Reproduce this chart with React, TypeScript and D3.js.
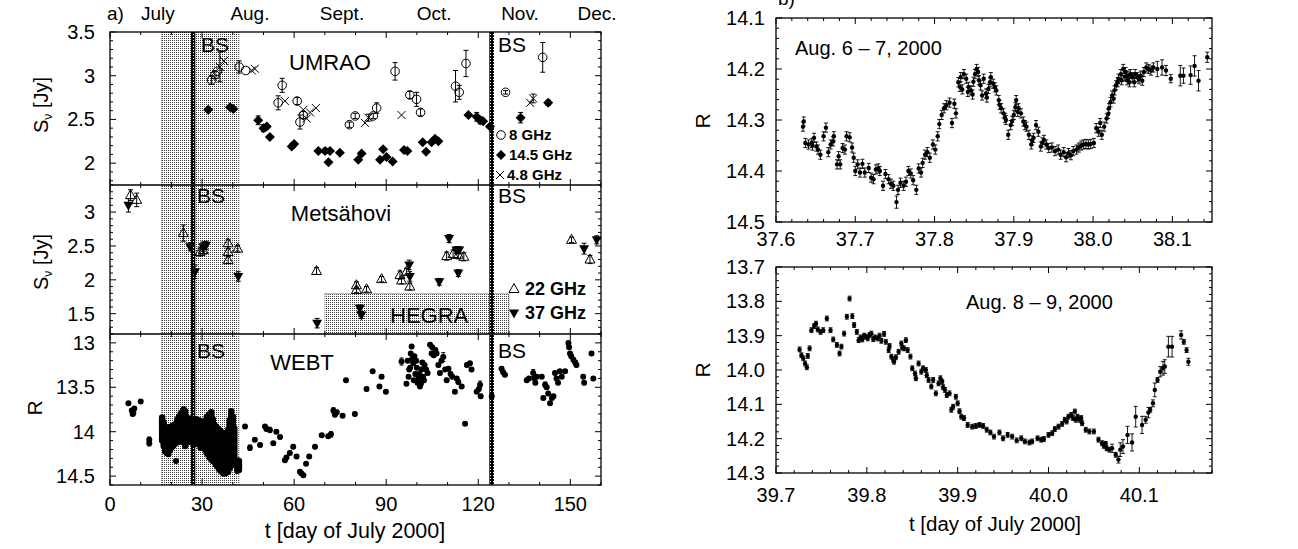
import * as d3 from 'd3';

const W = 1298;
const H = 549;
const FONT = '"Liberation Sans", Arial, Helvetica, sans-serif';

// ---------- panel a) : long-term light curves ----------
const monthNames = ['July', 'Aug.', 'Sept.', 'Oct.', 'Nov.', 'Dec.'];
const monthPos = [15.6, 45.6, 75.6, 105.6, 133.6, 158.7];
const shadeDays = [16.8, 42];
const bsDays = [[26.4, 27.8], [123.6, 125.1]];
const hegraDays = [70, 130];
const hegraTop = 1.8;

// UMRAO [day, S, err]
const umrao8 = [
  [33.1, 2.95, 0.05], [34.2, 3.01, 0.04], [35, 3.05, 0], [42.1, 3.1, 0.07], [44.2, 3.06, 0],
  [54.8, 2.69, 0.08], [56.1, 2.89, 0.08], [61, 2.71, 0.04], [61.9, 2.47, 0.08], [63, 2.55, 0.04],
  [78, 2.44, 0.03], [79.9, 2.54, 0.03], [85.8, 2.54, 0.03], [86.9, 2.63, 0.06], [92.9, 3.05, 0.1],
  [97.7, 2.78, 0.04], [99.9, 2.73, 0.08], [101.2, 2.58, 0.04], [112.6, 2.88, 0.18], [113.8, 2.81, 0.08],
  [116, 3.14, 0.15], [128.9, 2.81, 0.02], [141, 3.21, 0.17],
];
const umrao145 = [
  [32, 2.61, 0], [39.1, 2.64, 0], [40.2, 2.62, 0], [48.3, 2.49, 0.05], [50, 2.4, 0.04], [51.1, 2.42, 0],
  [52.1, 2.3, 0], [59.2, 2.19, 0], [60, 2.22, 0], [67.9, 2.14, 0], [70.1, 2.14, 0.03], [71.2, 2.01, 0],
  [71.7, 2.14, 0], [74.9, 2.12, 0], [80.9, 2.04, 0], [82, 2.11, 0], [88, 2.04, 0], [89, 2.16, 0],
  [90.1, 2.07, 0], [92.1, 2.02, 0], [95.8, 2.15, 0], [96.9, 2.14, 0], [101.9, 2.24, 0], [103, 2.13, 0],
  [104.8, 2.24, 0], [105.9, 2.28, 0], [107, 2.25, 0], [116.8, 2.55, 0], [119.5, 2.53, 0.05],
  [120.6, 2.49, 0.04], [121.6, 2.48, 0], [123.8, 2.42, 0], [133.8, 2.52, 0.06], [142.8, 2.69, 0.03],
];
const umrao48 = [
  [35.8, 3.1, 0.17], [37.1, 3.17, 0], [46.2, 3.06, 0], [47.2, 3.08, 0], [57, 2.71, 0], [63, 2.61, 0],
  [64.1, 2.51, 0], [65.2, 2.58, 0], [67.1, 2.63, 0], [83.1, 2.46, 0], [84.2, 2.52, 0.04], [95, 2.55, 0],
  [136.9, 2.69, 0], [137.9, 2.74, 0.05],
];

// Metsähovi [day, S, err]
const mets22 = [
  [6.7, 3.25, 0.08], [8.7, 3.18, 0.1], [23.9, 2.69, 0.12], [29.3, 2.41, 0.06], [30.4, 2.44, 0.06],
  [38.5, 2.54, 0.05], [38.5, 2.41, 0.05], [38.5, 2.29, 0.05], [41.6, 2.46, 0.05], [67.3, 2.13, 0.05],
  [80.3, 1.92, 0.05], [80.3, 1.85, 0.04], [83.6, 1.86, 0.04], [88.5, 2.01, 0.04], [94.5, 2.07, 0.06],
  [95, 1.99, 0.05], [96.6, 2.12, 0.05], [97.7, 1.9, 0.05], [109.7, 2.35, 0.06], [111.8, 2.38, 0.06],
  [113.5, 2.37, 0.06], [115.3, 2.34, 0.06], [150.4, 2.59, 0.04], [156.4, 2.3, 0.06],
];
const mets37 = [
  [6, 3.1, 0.1], [26.1, 2.49, 0.06], [27.7, 2.12, 0.1], [30.4, 2.49, 0.07], [31.3, 2.51, 0.06],
  [41.8, 2.05, 0.07], [67.5, 1.36, 0.07], [81.4, 1.58, 0.05], [81.9, 1.48, 0.05], [97.5, 2.22, 0.07],
  [97.7, 2.05, 0.07], [107.3, 1.97, 0.05], [110.5, 2.61, 0.06], [112.9, 2.44, 0.05], [113.8, 2.44, 0.05],
  [113.5, 2.1, 0.05], [154.5, 2.46, 0.08], [158.6, 2.59, 0.06],
];

// WEBT dense nights Jul 17 - Aug 11: [day, brightest R, faintest R]
const webtNights = [
  [17.0, 13.84, 14.1], [17.5, 13.9, 14.16], [18.0, 13.96, 14.22], [18.5, 13.99, 14.24], [19.0, 13.95, 14.25],
  [19.5, 13.97, 14.21], [20.0, 13.94, 14.18], [20.5, 13.93, 14.16], [21.0, 13.96, 14.14], [21.5, 13.91, 14.12],
  [22.0, 13.86, 14.12], [22.5, 13.83, 14.1], [23.0, 13.8, 14.09], [23.5, 13.78, 14.08], [24.0, 13.75, 14.12],
  [24.5, 13.77, 14.16], [25.0, 13.84, 14.12], [25.5, 13.88, 14.08], [26.0, 13.86, 14.1], [26.5, 13.85, 14.12],
  [27.0, 13.86, 14.13], [27.5, 13.87, 14.14], [28.0, 13.86, 14.13], [28.5, 13.88, 14.1], [29.0, 13.87, 14.09],
  [29.5, 13.9, 14.18], [30.0, 13.91, 14.15], [30.5, 13.92, 14.17], [31.0, 13.88, 14.2], [31.5, 13.84, 14.24],
  [32.0, 13.82, 14.26], [32.5, 13.8, 14.29], [33.0, 13.78, 14.31], [33.5, 13.86, 14.33], [34.0, 13.92, 14.33],
  [34.5, 13.94, 14.37], [35.0, 13.96, 14.39], [35.5, 13.98, 14.42], [36.0, 13.99, 14.44], [36.5, 14.01, 14.45],
  [37.0, 14.03, 14.47], [37.5, 14.03, 14.47], [38.0, 14.01, 14.46], [38.5, 13.98, 14.45], [39.0, 13.87, 14.41],
  [39.5, 13.77, 14.38], [40.0, 13.83, 14.3], [40.5, 13.96, 14.27], [41.5, 14.32, 14.44], [42.0, 14.33, 14.43],
];
// WEBT sparse points [day, R, err]
const webtSparse = [
  [6, 13.68, 0.02], [7.1, 13.76, 0.02], [7.4, 13.8, 0.02], [7.6, 13.79, 0.02], [7.9, 13.74, 0.02], [10, 13.66, 0.01],
  [12.8, 14.09, 0.03], [12.8, 14.13, 0.03], [21.5, 14.33, 0.02],
  [44, 13.94, 0.02], [45.6, 14.18, 0.03], [47.2, 14.09, 0.02], [48.9, 14.15, 0.02], [50.5, 13.94, 0.02],
  [51, 13.97, 0.02], [52.1, 13.98, 0.03], [53.2, 14.13, 0.02], [54.2, 14.0, 0.02], [55.4, 14.06, 0.02],
  [57, 14.32, 0.02], [57.5, 14.29, 0.02], [58.6, 14.24, 0.02], [59.7, 14.17, 0.02], [60.8, 14.28, 0.02],
  [61.9, 14.45, 0.02], [62.4, 14.47, 0.02], [63, 14.49, 0.02], [63.9, 14.36, 0.02], [64.9, 14.28, 0.02],
  [66.8, 14.17, 0.02], [69, 14.04, 0.02], [71.1, 14.05, 0.02], [72, 14.03, 0.03], [72.8, 13.76, 0.03],
  [73.3, 13.81, 0.02], [73.9, 13.78, 0.02], [75.8, 13.82, 0.02], [76.9, 13.42, 0.02], [79.8, 13.8, 0.02],
  [83.6, 13.52, 0.02], [85.6, 13.32, 0.02], [87.8, 13.49, 0.02], [88.5, 13.38, 0.02], [89.9, 13.55, 0.02],
  [95, 13.21, 0.04], [96.6, 13.46, 0.02], [97, 13.2, 0.02], [97.3, 13.38, 0.02], [97.5, 13.3, 0.02],
  [97.8, 13.28, 0.02], [98, 13.12, 0.02], [98.3, 13.04, 0.02], [98.5, 13.18, 0.02], [98.8, 13.23, 0.02],
  [99, 13.42, 0.02], [99.2, 13.15, 0.02], [99.5, 13.35, 0.02], [99.8, 13.2, 0.02], [100, 13.28, 0.02],
  [100.2, 13.45, 0.02], [100.5, 13.4, 0.02], [100.8, 13.35, 0.02], [101, 13.49, 0.02], [101.3, 13.46, 0.02],
  [101.5, 13.3, 0.02], [101.8, 13.22, 0.02], [102, 13.38, 0.02], [102.3, 13.42, 0.02], [102.5, 13.25, 0.02],
  [103, 13.3, 0.02], [103.5, 13.34, 0.02], [104.3, 13.02, 0.02], [104.8, 13.12, 0.02], [105, 13.05, 0.02],
  [105.5, 13.14, 0.02], [106, 13.08, 0.02], [106.4, 13.12, 0.02], [107, 13.25, 0.02], [107.5, 13.34, 0.02],
  [108, 13.2, 0.02], [108.6, 13.16, 0.05], [109.2, 13.3, 0.02], [109.7, 13.42, 0.02], [110.3, 13.29, 0.02],
  [111, 13.35, 0.02], [111.5, 13.38, 0.02], [112.4, 13.55, 0.02], [113, 13.4, 0.02], [113.5, 13.44, 0.02],
  [114.6, 13.49, 0.02], [115.7, 13.91, 0.02], [116.3, 13.25, 0.02], [117.3, 13.23, 0.02], [117.8, 13.3, 0.02],
  [119.5, 13.55, 0.02], [120.2, 13.52, 0.02], [120.6, 13.47, 0.04], [120.8, 13.6, 0.02], [124.4, 13.6, 0.02],
  [127.6, 13.29, 0.02], [128.1, 13.33, 0.02], [128.7, 13.36, 0.02], [135.8, 13.42, 0.02], [136.5, 13.4, 0.02],
  [137.9, 13.34, 0.04], [138.3, 13.4, 0.02], [138.6, 13.45, 0.02], [139, 13.38, 0.02], [140.7, 13.38, 0.02],
  [141.2, 13.62, 0.02], [141.8, 13.47, 0.03], [142.3, 13.5, 0.02], [142.8, 13.57, 0.02], [143.4, 13.68, 0.02],
  [144, 13.62, 0.02], [144.5, 13.6, 0.02], [145, 13.34, 0.02], [145.5, 13.4, 0.02], [146, 13.45, 0.02],
  [146.6, 13.32, 0.02], [147.2, 13.38, 0.02], [148.3, 13.32, 0.02], [149.4, 13.0, 0.02], [149.6, 13.05, 0.02],
  [149.9, 13.12, 0.02], [150.3, 13.15, 0.02], [151, 13.19, 0.02], [151.6, 13.22, 0.02], [152, 13.25, 0.02],
  [154.2, 13.38, 0.02], [154.5, 13.45, 0.02], [156.9, 13.12, 0.02], [157.5, 13.4, 0.02],
];

// ---------- panel b) : intranight R curves [t, R, err] ----------
const night67 = [
  [37.634, 14.313], [37.635, 14.303], [37.637, 14.345], [37.641, 14.348], [37.645, 14.345], [37.646, 14.35],
  [37.648, 14.335], [37.651, 14.352], [37.653, 14.358], [37.656, 14.368], [37.66, 14.332], [37.663, 14.315],
  [37.666, 14.363], [37.669, 14.348], [37.672, 14.342], [37.673, 14.332], [37.677, 14.387], [37.679, 14.371],
  [37.681, 14.387], [37.684, 14.355], [37.687, 14.358], [37.689, 14.332], [37.693, 14.334], [37.696, 14.354],
  [37.698, 14.374], [37.7, 14.4], [37.703, 14.387], [37.706, 14.403], [37.709, 14.386], [37.712, 14.403],
  [37.717, 14.394], [37.72, 14.413], [37.723, 14.416], [37.726, 14.397], [37.729, 14.395], [37.731, 14.4],
  [37.735, 14.429], [37.738, 14.406], [37.742, 14.416], [37.745, 14.425], [37.748, 14.429], [37.752, 14.461, 0.012],
  [37.754, 14.437], [37.757, 14.423], [37.761, 14.429], [37.764, 14.421], [37.767, 14.4], [37.77, 14.405],
  [37.773, 14.418], [37.777, 14.437], [37.78, 14.395], [37.783, 14.403], [37.785, 14.384], [37.788, 14.368],
  [37.791, 14.363], [37.794, 14.374], [37.798, 14.348], [37.801, 14.358], [37.804, 14.332], [37.806, 14.308],
  [37.809, 14.29], [37.812, 14.277], [37.815, 14.271], [37.819, 14.266], [37.822, 14.306], [37.825, 14.268],
  [37.827, 14.287], [37.83, 14.226], [37.832, 14.235], [37.833, 14.216], [37.835, 14.24], [37.837, 14.21],
  [37.84, 14.219], [37.842, 14.245], [37.843, 14.235], [37.846, 14.242], [37.848, 14.25], [37.849, 14.225],
  [37.851, 14.21], [37.853, 14.2], [37.855, 14.206], [37.856, 14.222], [37.858, 14.232], [37.86, 14.252],
  [37.862, 14.219], [37.865, 14.248], [37.866, 14.256], [37.868, 14.239], [37.87, 14.226], [37.871, 14.216],
  [37.874, 14.229], [37.876, 14.236], [37.878, 14.242], [37.881, 14.261], [37.882, 14.27], [37.884, 14.277],
  [37.887, 14.287], [37.889, 14.296], [37.89, 14.3], [37.893, 14.329], [37.896, 14.31], [37.898, 14.302],
  [37.9, 14.29], [37.902, 14.275], [37.903, 14.261], [37.905, 14.284], [37.906, 14.277], [37.909, 14.287],
  [37.912, 14.303], [37.914, 14.31], [37.916, 14.313], [37.919, 14.329], [37.922, 14.348], [37.923, 14.34],
  [37.925, 14.335], [37.928, 14.31], [37.931, 14.323], [37.934, 14.352], [37.936, 14.344], [37.938, 14.339],
  [37.941, 14.348], [37.944, 14.355], [37.948, 14.354], [37.952, 14.361], [37.956, 14.358], [37.959, 14.368],
  [37.963, 14.363], [37.966, 14.373], [37.969, 14.365], [37.972, 14.369], [37.975, 14.361], [37.979, 14.358],
  [37.982, 14.354], [37.985, 14.35], [37.988, 14.348], [37.991, 14.347], [37.994, 14.348], [37.997, 14.347],
  [38.001, 14.345], [38.004, 14.316], [38.007, 14.323], [38.009, 14.306], [38.011, 14.329], [38.014, 14.313],
  [38.017, 14.297], [38.019, 14.288], [38.02, 14.277], [38.022, 14.265], [38.024, 14.252], [38.026, 14.258],
  [38.027, 14.242], [38.029, 14.232], [38.031, 14.226], [38.032, 14.219], [38.035, 14.21], [38.036, 14.222],
  [38.038, 14.2], [38.04, 14.215], [38.041, 14.206], [38.043, 14.222], [38.044, 14.213], [38.046, 14.226],
  [38.047, 14.21], [38.05, 14.216], [38.052, 14.226], [38.053, 14.21], [38.056, 14.216], [38.058, 14.22],
  [38.06, 14.213], [38.062, 14.223], [38.064, 14.206], [38.067, 14.197], [38.07, 14.2], [38.073, 14.203],
  [38.076, 14.197], [38.081, 14.2, 0.015], [38.087, 14.197, 0.015], [38.092, 14.203, 0.01], [38.098, 14.219, 0.008],
  [38.11, 14.213, 0.02], [38.114, 14.213, 0.015], [38.123, 14.212, 0.018], [38.128, 14.194, 0.02],
  [38.133, 14.223, 0.02], [38.144, 14.177, 0.01],
];
const night89 = [
  [39.726, 13.94], [39.728, 13.957], [39.73, 13.966], [39.732, 13.981], [39.734, 13.992], [39.735, 13.959],
  [39.737, 13.937], [39.739, 13.884], [39.742, 13.872], [39.744, 13.865], [39.746, 13.882], [39.749, 13.889],
  [39.752, 13.884], [39.756, 13.85], [39.76, 13.884], [39.763, 13.911], [39.767, 13.927], [39.77, 13.952],
  [39.772, 13.932], [39.775, 13.894], [39.778, 13.845], [39.781, 13.792], [39.784, 13.843], [39.786, 13.869],
  [39.789, 13.889], [39.791, 13.913], [39.793, 13.905], [39.795, 13.911], [39.797, 13.9], [39.799, 13.903],
  [39.801, 13.908], [39.803, 13.898], [39.805, 13.894], [39.807, 13.91], [39.809, 13.905], [39.812, 13.908],
  [39.814, 13.9], [39.816, 13.915], [39.819, 13.895], [39.821, 13.918], [39.824, 13.942], [39.825, 13.93],
  [39.827, 13.961], [39.829, 13.97], [39.83, 13.976], [39.832, 13.963], [39.835, 13.947], [39.838, 13.923],
  [39.839, 13.935], [39.841, 13.937], [39.843, 13.913], [39.845, 13.942], [39.848, 13.961], [39.85, 13.995],
  [39.853, 14.01], [39.854, 14.024], [39.857, 13.981], [39.86, 14.005], [39.862, 13.995], [39.865, 14.0],
  [39.866, 14.015], [39.868, 14.029], [39.871, 14.048], [39.873, 14.029], [39.876, 14.068], [39.879, 14.039],
  [39.881, 14.024], [39.883, 14.034], [39.884, 14.05], [39.886, 14.058], [39.888, 14.073], [39.891, 14.068],
  [39.893, 14.116], [39.895, 14.107], [39.898, 14.078], [39.9, 14.097], [39.902, 14.12], [39.904, 14.136],
  [39.907, 14.14], [39.911, 14.16], [39.916, 14.165], [39.92, 14.163], [39.924, 14.16], [39.928, 14.163],
  [39.932, 14.174], [39.936, 14.182], [39.94, 14.194], [39.946, 14.182], [39.95, 14.199], [39.955, 14.189],
  [39.96, 14.194], [39.965, 14.205], [39.97, 14.199], [39.974, 14.208], [39.979, 14.211], [39.982, 14.208],
  [39.988, 14.199], [39.992, 14.203], [39.995, 14.201], [40.0, 14.189], [40.004, 14.184], [40.007, 14.172],
  [40.011, 14.165], [40.015, 14.157], [40.018, 14.145], [40.02, 14.15], [40.022, 14.136], [40.025, 14.131],
  [40.027, 14.14], [40.029, 14.121], [40.03, 14.145], [40.032, 14.136], [40.034, 14.145], [40.036, 14.14],
  [40.037, 14.155], [40.041, 14.174], [40.045, 14.179], [40.05, 14.179], [40.055, 14.203], [40.059, 14.213],
  [40.061, 14.221], [40.063, 14.215], [40.064, 14.228], [40.067, 14.232], [40.07, 14.228, 0.012], [40.074, 14.247],
  [40.077, 14.261, 0.01], [40.079, 14.232, 0.02], [40.082, 14.223, 0.02], [40.087, 14.189, 0.025],
  [40.092, 14.211, 0.025], [40.096, 14.136, 0.03], [40.103, 14.16, 0.025], [40.107, 14.145, 0.01],
  [40.11, 14.124, 0.015], [40.112, 14.116], [40.115, 14.097, 0.01], [40.117, 14.058, 0.02], [40.12, 14.029],
  [40.123, 14.005, 0.015], [40.126, 13.995, 0.02], [40.128, 13.99, 0.02], [40.132, 13.932, 0.03],
  [40.136, 13.932, 0.03], [40.146, 13.898, 0.012], [40.149, 13.918], [40.152, 13.942], [40.154, 13.976, 0.01],
];

// tick labels
const xLTicks = [0, 30, 60, 90, 120, 150];
const yTopTicks = [2, 2.5, 3, 3.5];
const yMidTicks = [1.5, 2, 2.5, 3];
const yBotTicks = [13, 13.5, 14, 14.5];
const xATicks = [37.6, 37.7, 37.8, 37.9, 38.0, 38.1];
const yATicks = [14.1, 14.2, 14.3, 14.4, 14.5];
const xBTicks = [39.7, 39.8, 39.9, 40.0, 40.1];
const yBTicks = [13.7, 13.8, 13.9, 14.0, 14.1, 14.2, 14.3];

// scales
const xL = d3.scaleLinear([0, 160], [110, 601]);
const yTop = d3.scaleLinear([1.75, 3.5], [185, 32]);
const yMid = d3.scaleLinear([1.2, 3.4], [334, 185]);
const yBot = d3.scaleLinear([12.9, 14.6], [334, 485]);
const xA = d3.scaleLinear([37.6, 38.15], [776, 1212]);
const yA = d3.scaleLinear([14.1, 14.5], [18, 222]);
const xB = d3.scaleLinear([39.7, 40.18], [776, 1212]);
const yB = d3.scaleLinear([13.7, 14.3], [267, 473]);

type Lin = d3.ScaleLinear<number, number>;

function tickVals(lo: number, hi: number, step: number) {
  const out: number[] = [];
  const n0 = Math.ceil(lo / step - 1e-6), n1 = Math.floor(hi / step + 1e-6);
  for (let i = n0; i <= n1; i++) out.push(+(i * step).toFixed(6));
  return out;
}
const isMult = (v: number, s: number) => Math.abs(v / s - Math.round(v / s)) < 1e-6;

// inward ticks on all four sides of a frame
function frameTicks(x: Lin, y: Lin, xMaj: number, xMin: number, yMaj: number, yMin: number, lMaj = 6, lMin = 3) {
  const [xa, xb] = x.range();
  const top = Math.min(...y.range()), bot = Math.max(...y.range());
  const [dx0, dx1] = x.domain();
  const dy = y.domain();
  let d = '';
  for (const v of tickVals(dx0, dx1, xMin)) {
    const l = isMult(v, xMaj) ? lMaj : lMin;
    const px = x(v);
    d += `M${px},${bot}v${-l}M${px},${top}v${l}`;
  }
  for (const v of tickVals(Math.min(...dy), Math.max(...dy), yMin)) {
    const l = isMult(v, yMaj) ? lMaj : lMin;
    const py = y(v);
    d += `M${xa},${py}h${l}M${xb},${py}h${-l}`;
  }
  return d;
}

function errPath(px: number, y0: number, y1: number, cap = 2.5) {
  return `M${px},${y0}V${y1}M${px - cap},${y0}h${cap * 2}M${px - cap},${y1}h${cap * 2}`;
}

const diamond = 'M0,-5L5,0L0,5L-5,0Z';
const triUp = 'M0,-5.5L5,3.5L-5,3.5Z';
const triDown = 'M0,5.5L5,-3.5L-5,-3.5Z';

export default function App() {
  const top = 32, bot = 485;
  const tick = { fontSize: 20, fontFamily: FONT } as const;

  const leftErr = (data: number[][], y: Lin) =>
    data.filter(d => d[2] > 0).map(d => errPath(xL(d[0]), y(d[1] - d[2]), y(d[1] + d[2]))).join('');

  const nightErr = (data: number[][], x: Lin, y: Lin, def: number) =>
    data.map(d => errPath(x(d[0]), y(d[1] - (d[2] ?? def)), y(d[1] + (d[2] ?? def)), 2)).join('');

  return (
    <svg width={W} height={H} style={{ position: 'absolute', left: 0, top: 0, background: '#fff' }} fontFamily={FONT}>
      <defs>
        <pattern id="stip" width="2" height="2" patternUnits="userSpaceOnUse">
          <rect width="2" height="2" fill="#fff" />
          <rect width="1" height="1" fill="#3a3a3a" />
        </pattern>
        <pattern id="bar" width="3" height="3" patternUnits="userSpaceOnUse">
          <rect width="3" height="3" fill="#000" />
          <rect x="1" y="1" width="1" height="1" fill="#fff" />
        </pattern>
        <clipPath id="clipL"><rect x={110} y={top} width={491} height={bot - top} /></clipPath>
      </defs>
      <rect width={W} height={H} fill="#fff" />

      {/* ---------- panel a) ---------- */}
      <g clipPath="url(#clipL)">
        <rect x={xL(shadeDays[0])} y={top} width={xL(shadeDays[1]) - xL(shadeDays[0])} height={bot - top} fill="url(#stip)" />
        {shadeDays.map((d, i) => (
          <line key={i} x1={xL(d)} x2={xL(d)} y1={top} y2={bot} stroke="#777" strokeDasharray="1,1" />
        ))}
        <rect x={xL(hegraDays[0])} y={yMid(hegraTop)} width={xL(hegraDays[1]) - xL(hegraDays[0])} height={334 - yMid(hegraTop)}
          fill="url(#stip)" stroke="#777" strokeDasharray="1,1" />
        {bsDays.map((b, i) => (
          <rect key={i} x={xL(b[0])} y={top} width={xL(b[1]) - xL(b[0])} height={bot - top} fill="url(#bar)" />
        ))}

        {/* UMRAO */}
        <path d={leftErr(umrao8, yTop) + leftErr(umrao145, yTop) + leftErr(umrao48, yTop)} stroke="#000" strokeWidth={1} fill="none" />
        {umrao8.map((d, i) => (
          <circle key={i} cx={xL(d[0])} cy={yTop(d[1])} r={4.3} fill="none" stroke="#000" strokeWidth={1} />
        ))}
        {umrao145.map((d, i) => (
          <path key={i} d={diamond} transform={`translate(${xL(d[0])},${yTop(d[1])})`} fill="#000" />
        ))}
        {umrao48.map((d, i) => (
          <path key={i} d="M-4,-4L4,4M-4,4L4,-4" transform={`translate(${xL(d[0])},${yTop(d[1])})`} stroke="#000" strokeWidth={1} />
        ))}

        {/* Metsähovi */}
        <path d={leftErr(mets22, yMid) + leftErr(mets37, yMid)} stroke="#000" strokeWidth={1} fill="none" />
        {mets22.map((d, i) => (
          <path key={i} d={triUp} transform={`translate(${xL(d[0])},${yMid(d[1])})`} fill="none" stroke="#000" strokeWidth={1} />
        ))}
        {mets37.map((d, i) => (
          <path key={i} d={triDown} transform={`translate(${xL(d[0])},${yMid(d[1])})`} fill="#000" />
        ))}

        {/* WEBT: dense nights drawn as each night's range of points */}
        <path d={webtNights.map(n => `M${xL(n[0])},${yBot(n[1])}V${yBot(n[2])}`).join('')}
          stroke="#000" strokeWidth={6.5} strokeLinecap="round" fill="none" />
        <path d={webtSparse.map(d => errPath(xL(d[0]), yBot(d[1] - d[2]), yBot(d[1] + d[2]), 2)).join('')} stroke="#000" strokeWidth={1} />
        {webtSparse.map((d, i) => (
          <circle key={i} cx={xL(d[0])} cy={yBot(d[1])} r={3} fill="#000" />
        ))}
      </g>

      {/* frames */}
      <rect x={110} y={top} width={491} height={bot - top} fill="none" stroke="#000" strokeWidth={1.3} />
      <line x1={110} x2={601} y1={185} y2={185} stroke="#000" strokeWidth={1.3} />
      <line x1={110} x2={601} y1={334} y2={334} stroke="#000" strokeWidth={1.3} />
      <path d={frameTicks(xL, yTop, 30, 10, 0.5, 0.1) + frameTicks(xL, yMid, 30, 10, 0.5, 0.1) + frameTicks(xL, yBot, 30, 10, 0.5, 0.1)}
        stroke="#000" strokeWidth={1} fill="none" />

      {/* tick labels */}
      {yTopTicks.map(v => <text key={v} x={95} y={yTop(v) + 7} textAnchor="end" {...tick}>{v}</text>)}
      {yMidTicks.map(v => <text key={v} x={95} y={yMid(v) + 7} textAnchor="end" {...tick}>{v}</text>)}
      {yBotTicks.map(v => <text key={v} x={95} y={yBot(v) + 7} textAnchor="end" {...tick}>{v}</text>)}
      {xLTicks.map(v => <text key={v} x={xL(v)} y={511} textAnchor="middle" {...tick}>{v}</text>)}
      <text x={355} y={538} textAnchor="middle" fontSize={21.5}>t [day of July 2000]</text>

      <text transform="translate(48,105) rotate(-90)" textAnchor="middle" fontSize={20}>
        S<tspan fontSize={12} dy={4}>ν</tspan><tspan dy={-4}> [Jy]</tspan>
      </text>
      <text transform="translate(48,262) rotate(-90)" textAnchor="middle" fontSize={20}>
        S<tspan fontSize={12} dy={4}>ν</tspan><tspan dy={-4}> [Jy]</tspan>
      </text>
      <text transform="translate(42,408) rotate(-90)" textAnchor="middle" fontSize={21}>R</text>

      {/* months */}
      <text x={107} y={20} fontSize={19}>a)</text>
      {monthNames.map((m, i) => (
        <text key={m} x={xL(monthPos[i])} y={20} textAnchor="middle" fontSize={19}>{m}</text>
      ))}

      {/* panel labels */}
      <text x={330} y={70} textAnchor="middle" fontSize={22}>UMRAO</text>
      <text x={341} y={221} textAnchor="middle" fontSize={22}>Metsähovi</text>
      <text x={302} y={370} textAnchor="middle" fontSize={22}>WEBT</text>
      <text x={xL(104)} y={323} textAnchor="middle" fontSize={22}>HEGRA</text>
      <text x={201} y={52} fontSize={21}>BS</text>
      <text x={498} y={52} fontSize={21}>BS</text>
      <text x={197} y={203} fontSize={21}>BS</text>
      <text x={498} y={203} fontSize={21}>BS</text>
      <text x={197} y={358} fontSize={21}>BS</text>
      <text x={498} y={358} fontSize={21}>BS</text>

      {/* legends */}
      <g fontWeight="bold" fontSize={15}>
        <circle cx={501} cy={135} r={4.3} fill="none" stroke="#000" />
        <text x={509} y={140}>8 GHz</text>
        <path d={diamond} transform="translate(501,155)" fill="#000" />
        <text x={509} y={160}>14.5 GHz</text>
        <path d="M-4,-4L4,4M-4,4L4,-4" transform="translate(500,175)" stroke="#000" />
        <text x={507} y={180}>4.8 GHz</text>
      </g>
      <g fontWeight="bold" fontSize={18}>
        <path d={triUp} transform="translate(514,289)" fill="none" stroke="#000" />
        <text x={525} y={295}>22 GHz</text>
        <path d={triDown} transform="translate(514,313)" fill="#000" />
        <text x={525} y={319}>37 GHz</text>
      </g>

      {/* ---------- panel b) top: Aug 6-7 ---------- */}
      <text x={778} y={5} fontSize={19}>b)</text>
      <path d={nightErr(night67, xA, yA, 0.009)} stroke="#000" strokeWidth={0.9} fill="none" />
      {night67.map((d, i) => (
        <circle key={i} cx={xA(d[0])} cy={yA(d[1])} r={2.2} fill="#000" />
      ))}
      <rect x={776} y={18} width={436} height={204} fill="none" stroke="#000" strokeWidth={1.3} />
      <path d={frameTicks(xA, yA, 0.1, 0.02, 0.1, 0.02)} stroke="#000" fill="none" />
      {yATicks.map(v => <text key={v} x={765} y={yA(v) + 7} textAnchor="end" {...tick}>{v.toFixed(1)}</text>)}
      {xATicks.map(v => <text key={v} x={xA(v)} y={246} textAnchor="middle" {...tick}>{v.toFixed(1)}</text>)}
      <text x={795} y={55} fontSize={20}>Aug. 6 – 7, 2000</text>
      <text transform="translate(710,121) rotate(-90)" textAnchor="middle" fontSize={21}>R</text>

      {/* ---------- panel b) bottom: Aug 8-9 ---------- */}
      <path d={nightErr(night89, xB, yB, 0.007)} stroke="#000" strokeWidth={0.9} fill="none" />
      {night89.map((d, i) => (
        <circle key={i} cx={xB(d[0])} cy={yB(d[1])} r={2.2} fill="#000" />
      ))}
      <rect x={776} y={267} width={436} height={206} fill="none" stroke="#000" strokeWidth={1.3} />
      <path d={frameTicks(xB, yB, 0.1, 0.02, 0.1, 0.02)} stroke="#000" fill="none" />
      {yBTicks.map(v => <text key={v} x={765} y={yB(v) + 7} textAnchor="end" {...tick}>{v.toFixed(1)}</text>)}
      {xBTicks.map(v => <text key={v} x={xB(v)} y={502} textAnchor="middle" {...tick}>{v.toFixed(1)}</text>)}
      <text x={966} y={309} fontSize={20}>Aug. 8 – 9, 2000</text>
      <text transform="translate(710,370) rotate(-90)" textAnchor="middle" fontSize={21}>R</text>
      <text x={995} y={531} textAnchor="middle" fontSize={20.5}>t [day of July 2000]</text>
    </svg>
  );
}
